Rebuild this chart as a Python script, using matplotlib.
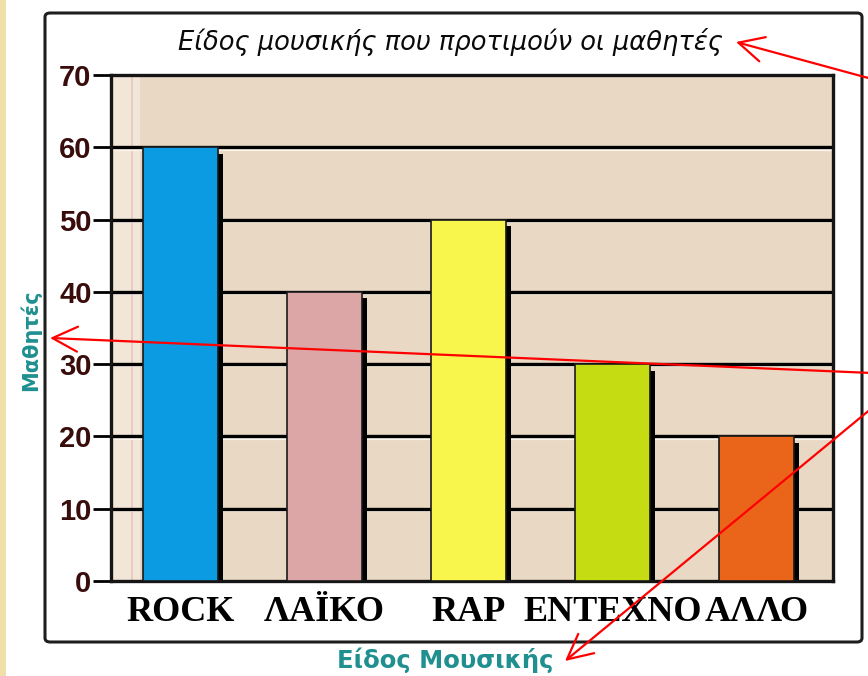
import matplotlib

matplotlib.use("Agg")
import matplotlib.pyplot as plt
from matplotlib.patches import Rectangle, FancyBboxPatch
from matplotlib.text import Annotation

# music preference survey
genres = ["ROCK", "ΛΑΪΚΟ", "RAP", "ΕΝΤΕΧΝΟ", "ΑΛΛΟ"]
students = [60, 40, 50, 30, 20]
bar_colors = ["#0a9be2", "#dca6a6", "#f8f54c", "#c6dc12", "#ea6419"]
yticks = [0, 10, 20, 30, 40, 50, 60, 70]

title = "Είδος μουσικής που προτιμούν οι μαθητές"
xlabel = "Είδος Μουσικής"
ylabel = "Μαθητές"

W, H = 868, 676
TEAL = "#1f8f8f"
MAROON = "#3a0d0d"


def px(x, y):
    """image-style pixel (origin top-left) -> figure pixels"""
    return x, H - y


fig = plt.figure(figsize=(W / 100, H / 100), dpi=100, facecolor="white")

# cream strip down the left edge and the white framed panel
fig.patches.append(Rectangle((0, 0), 6 / W, 1, transform=fig.transFigure,
                             facecolor="#f1dfa9", edgecolor="none", zorder=-2))
fig.patches.append(FancyBboxPatch((45 / W, (H - 642) / H), 817 / W, 629 / H,
                                  boxstyle="round,pad=0,rounding_size=0.006",
                                  transform=fig.transFigure, facecolor="white",
                                  edgecolor="#1e1e1e", lw=2.2, zorder=-1))

ax = fig.add_axes([111 / W, (H - 581) / H, 722 / W, 506 / H])
ax.set_facecolor("#e9d8c3")
x = list(range(len(genres)))
width = 0.52

ax.set_xlim(-0.48, 4.53)
ax.set_ylim(0, 70)

# lighter strip along the back wall
ax.axvspan(-0.48, -0.28, color="#f2e6d8", zorder=0.5, lw=0)
ax.axvline(-0.335, color="#e8c6c0", lw=1.2, zorder=0.6)

# gridlines with a pale line underneath each
levels = yticks[1:-1]
ax.hlines([v - 0.32 for v in levels], -0.48, 4.53, color="#fbf4ec", lw=1.6, zorder=1)
ax.hlines(levels, -0.48, 4.53, color="black", lw=2.4, zorder=1.2)

# drop shadows then the bars
shadow_dx = 0.035
ax.bar([i + shadow_dx for i in x], [v - 0.9 for v in students], width=width,
       color="black", zorder=2)
ax.bar(x, students, width=width, color=bar_colors, edgecolor="#1a1a1a",
       lw=1.2, zorder=3)

for s in ax.spines.values():
    s.set_color("#151515")
    s.set_linewidth(2.4)

ax.set_yticks(yticks)
ax.set_yticklabels([str(v) for v in yticks], fontfamily="Liberation Sans",
                   fontweight="bold", fontsize=21, color=MAROON)
ax.tick_params(axis="y", length=13, width=2, color="black", pad=1)

ax.set_xticks(x)
ax.set_xticklabels(genres, fontfamily="Liberation Serif", fontweight="bold",
                   fontsize=26, color="black")
ax.tick_params(axis="x", length=0, pad=11)

fig.text(450 / W, (H - 42) / H, title, ha="center", va="center",
         fontfamily="DejaVu Sans", fontstyle="oblique", fontsize=18.5,
         color="#0a0a0a")
fig.text(30 / W, (H - 340) / H, ylabel, ha="center", va="center", rotation=90,
         fontfamily="DejaVu Sans", fontweight="bold", fontsize=15, color=TEAL)
fig.text(445 / W, (H - 660) / H, xlabel, ha="center", va="center",
         fontfamily="DejaVu Sans", fontweight="bold", fontsize=17.5, color=TEAL)

# red pointer arrows coming in from the right edge
arrow = dict(arrowstyle="->,head_length=1.0,head_width=0.5", color="#ff0000",
             lw=1.6, mutation_scale=18, shrinkA=0, shrinkB=0)
for start, end in [((872, 79), (736, 42)),
                   ((872, 373), (50, 338)),
                   ((872, 408), (565, 661))]:
    fig.add_artist(Annotation(
        "", xy=px(*end), xytext=px(*start), xycoords="figure pixels",
        textcoords="figure pixels", arrowprops=arrow, annotation_clip=False))

fig.savefig("out.png", dpi=100)
